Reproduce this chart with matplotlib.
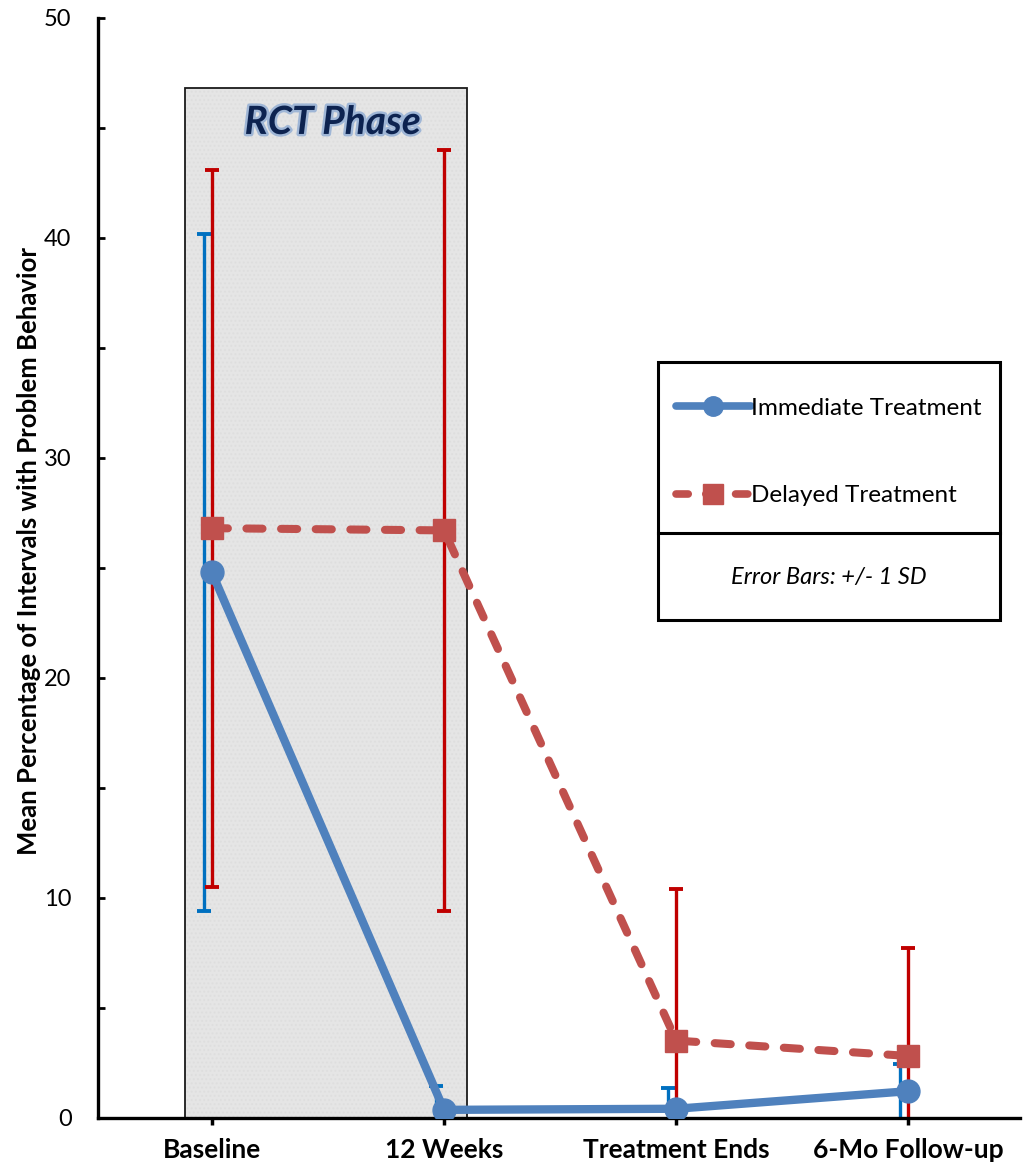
import numpy as np
import matplotlib.pyplot as plt
import matplotlib.patheffects as pe
from matplotlib.patches import Rectangle
from matplotlib.lines import Line2D

plt.rcParams['font.family'] = ['Lato', 'DejaVu Sans']

# data
timepoints = ['Baseline', '12 Weeks', 'Treatment Ends', '6-Mo Follow-up']
immediate_mean = [24.8, 0.35, 0.4, 1.2]
immediate_sd = [15.4, 1.1, 0.95, 1.25]
delayed_mean = [26.8, 26.7, 3.5, 2.8]
delayed_sd = [16.3, 17.3, 6.9, 4.9]

x = np.arange(len(timepoints))

fig = plt.figure(figsize=(10.26, 11.76), dpi=100)
ax = fig.add_axes([0.0955, 0.0497, 0.8986, 0.935])

# RCT phase shaded box
ax.add_patch(Rectangle((-0.116, 0), 1.216, 46.8, facecolor='#ececec',
                       edgecolor='none', zorder=0.5))
ax.add_patch(Rectangle((-0.116, 0), 1.216, 46.8, facecolor='#d8d8d8',
                       edgecolor='#d4d4d4', hatch='....', linewidth=0, alpha=0.35, zorder=0.6))
ax.add_patch(Rectangle((-0.116, 0), 1.216, 46.8, facecolor='none',
                       edgecolor='#1a1a1a', linewidth=1.3, zorder=0.7))
ax.text(0.52, 45.25, 'RCT Phase', ha='center', va='center', fontsize=28,
        fontweight='bold', style='italic', color='#0d2350', zorder=5,
        path_effects=[pe.withStroke(linewidth=3.5, foreground='#9fb6d6')])

# error bars (blue slightly offset left)
ax.errorbar(x - 0.035, immediate_mean, yerr=immediate_sd, fmt='none',
            ecolor='#0070c0', elinewidth=2.4, capsize=5, capthick=2.8, zorder=2)
ax.errorbar(x, delayed_mean, yerr=delayed_sd, fmt='none',
            ecolor='#c00000', elinewidth=2.4, capsize=5, capthick=2.8, zorder=2)

ax.plot(x, delayed_mean, color='#c0504d', lw=5.8, ls=(0, (2.0, 2.3)),
        dash_capstyle='round', marker='s', markersize=16.5, zorder=3)
ax.plot(x, immediate_mean, color='#4f81bd', lw=6, marker='o',
        markersize=16.5, zorder=4, solid_capstyle='round')

ax.set_xlim(-0.49, 3.48)
ax.set_ylim(0, 50)
ax.set_xticks(x)
ax.set_xticklabels(timepoints, fontsize=19, fontweight='bold')
ax.set_yticks([0, 10, 20, 30, 40, 50])
ax.set_yticks([5, 15, 25, 35, 45], minor=True)
ax.tick_params(axis='y', which='both', direction='in', length=5, width=2,
               labelsize=17, pad=19)
ax.tick_params(axis='x', direction='out', length=5, width=2.5, pad=10)
for s in ['top', 'right']:
    ax.spines[s].set_visible(False)
for s in ['left', 'bottom']:
    ax.spines[s].set_linewidth(2.4)
ax.set_ylabel('Mean Percentage of Intervals with Problem Behavior',
              fontsize=18.5, fontweight='bold')
ax.yaxis.set_label_coords(-0.062, 0.515)

# legend box
W, H = 1026, 1176
def fx(px):
    return px / W
def fy(py):
    return 1 - py / H
fig.add_artist(Rectangle((fx(658), fy(620)), fx(1000) - fx(658), fy(362) - fy(620),
                         transform=fig.transFigure, facecolor='white',
                         edgecolor='black', linewidth=2.2, zorder=10))
fig.add_artist(Line2D([fx(658), fx(1000)], [fy(533), fy(533)],
                      transform=fig.transFigure, color='black', lw=2.2, zorder=11))
handles = [
    Line2D([], [], color='#4f81bd', lw=5.5, marker='o', markersize=14,
           solid_capstyle='round'),
    Line2D([], [], color='#c0504d', lw=5.5, ls=(0, (1.6, 2.3)),
           dash_capstyle='round', marker='s', markersize=14),
]
leg = fig.legend(handles, ['Immediate Treatment', 'Delayed Treatment'],
                 loc='center left', bbox_to_anchor=(fx(666), fy(452)),
                 frameon=False, fontsize=17.5, handlelength=3.1,
                 handletextpad=0.0, labelspacing=2.75, borderaxespad=0)
leg.set_zorder(12)
fig.text(fx(829), fy(578), 'Error Bars: +/- 1 SD', ha='center', va='center',
         fontsize=17, style='italic', zorder=12)

fig.savefig('out.png', dpi=100)
